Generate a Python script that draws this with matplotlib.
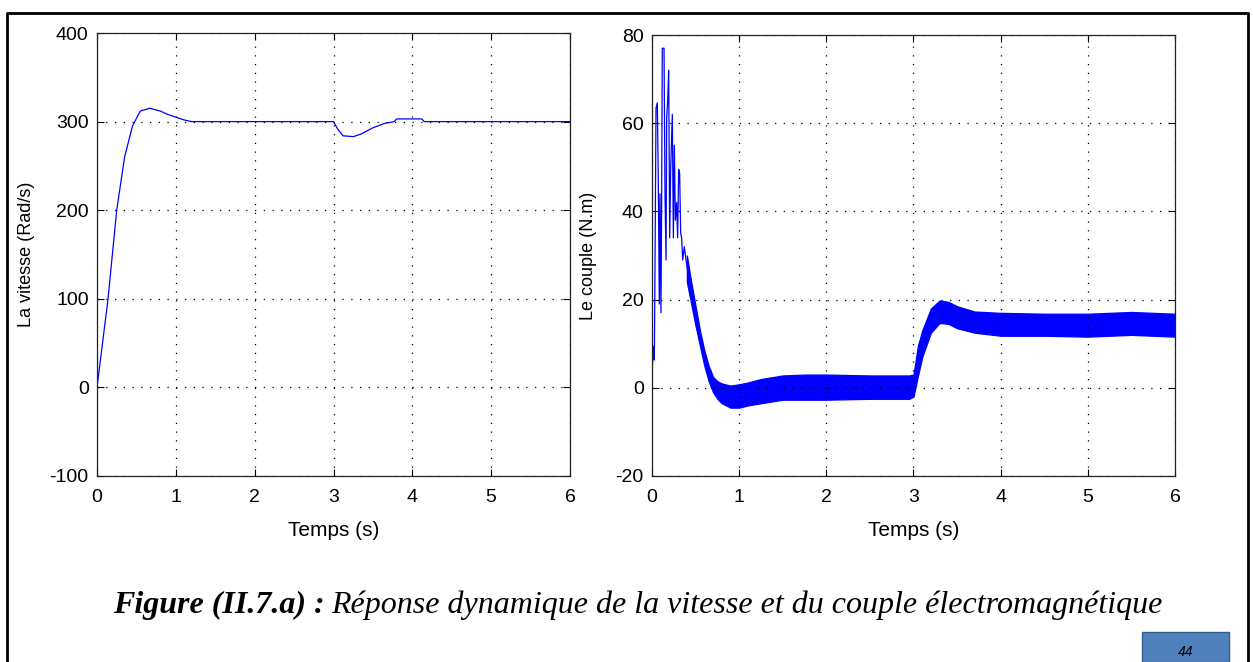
import numpy as np
import matplotlib
matplotlib.use("Agg")
from matplotlib import pyplot as plt
from matplotlib.patches import Rectangle
from matplotlib.lines import Line2D

t_speed = [0, 0.07, 0.14, 0.25, 0.35, 0.45, 0.55, 0.67, 0.8, 0.9, 1.0, 1.1, 1.2,
           3.0, 3.05, 3.12, 3.25, 3.35, 3.5, 3.65, 3.77, 3.8, 4.12, 4.15, 6.0]
speed = [0, 50, 100, 200, 260, 295, 312, 315, 312, 308, 305, 302, 300,
         300, 292, 284, 283, 286, 293, 298, 300, 303, 303, 300, 300]

# couple (N.m) : regime transitoire du debut (pics)
t_early = [0, 0.005, 0.015, 0.027, 0.038, 0.046, 0.061, 0.073, 0.084, 0.092, 0.103,
           0.111, 0.118, 0.138, 0.149, 0.161, 0.168, 0.18, 0.191, 0.203, 0.214,
           0.233, 0.245, 0.256, 0.268, 0.283, 0.294, 0.306, 0.317, 0.329, 0.34,
           0.352, 0.371, 0.39, 0.405]
torque_early = [0, 5, 9.4, 6.3, 38, 63.5, 64.6, 45.6, 19, 44, 17,
                44, 77, 77, 44, 29, 61, 65, 72, 34, 49.5,
                62, 34, 55, 38, 42, 34, 49.5, 48.7, 35, 34,
                29, 32, 29, 27]

# couple (N.m) : enveloppe de l'ondulation ensuite
t_band = [0.40, 0.45, 0.50, 0.55, 0.60, 0.65, 0.70, 0.75, 0.80, 0.90, 1.00, 1.10,
          1.25, 1.50, 1.75, 2.00, 2.50, 2.95, 3.00, 3.05, 3.10, 3.20, 3.30, 3.40,
          3.50, 3.70, 4.00, 4.50, 5.00, 5.50, 6.00]
band_upper = [30, 24, 18.5, 13, 8.5, 5, 2.5, 1.5, 1.0, 0.5, 0.8, 1.2,
              2.0, 2.8, 3.0, 3.0, 2.8, 2.8, 3.0, 9.5, 13, 18, 19.8, 19.5,
              18.5, 17.3, 17, 16.8, 16.8, 17.2, 16.8]
band_lower = [24, 19, 14, 9.5, 5, 1.5, -1, -2.5, -3.5, -4.5, -4.5, -4.0,
              -3.5, -2.7, -2.7, -2.7, -2.5, -2.5, -2.0, 2.6, 7, 12.5, 14.7, 14.5,
              13.5, 12.5, 11.8, 11.8, 11.6, 12, 11.6]

x_ticks = [0, 1, 2, 3, 4, 5, 6]
speed_ticks = [-100, 0, 100, 200, 300, 400]
torque_ticks = [-20, 0, 20, 40, 60, 80]

plt.rcParams["axes.unicode_minus"] = False
plt.rcParams["font.family"] = ["Liberation Sans", "DejaVu Sans"]

W, H = 1253, 662
fig = plt.figure(figsize=(W / 100, H / 100), dpi=100)
fig.patch.set_facecolor("white")


def matlab_axes(rect, yticks, ylabel, label_x):
    ax = fig.add_axes(rect)
    ax.set_xlim(0, 6)
    ax.set_ylim(yticks[0], yticks[-1])
    ax.set_xticks(x_ticks)
    ax.set_yticks(yticks)
    ax.tick_params(direction="in", length=5, width=0.8, top=True, right=True,
                   labelsize=14, pad=6, colors="black")
    ax.tick_params(axis="x", pad=9)
    ax.grid(True, color="black", linestyle=(0, (1, 6)), linewidth=0.9)
    for s in ax.spines.values():
        s.set_linewidth(0.9)
        s.set_color("#222222")
    ax.set_xlabel("Temps (s)", fontsize=15, labelpad=11)
    ax.set_ylabel(ylabel, fontsize=13)
    ax.yaxis.set_label_coords(label_x, 0.5)
    return ax


ax1 = matlab_axes([97 / W, 1 - 476 / H, 473 / W, 443 / H], speed_ticks,
                  "La vitesse (Rad/s)", -0.131)
ax1.plot(t_speed, speed, color="#0000ff", linewidth=0.9)

ax2 = matlab_axes([652 / W, 1 - 476 / H, 523 / W, 441 / H], torque_ticks,
                  "Le couple (N.m)", -0.105)
ax2.plot(t_early, torque_early, color="#0000ff", linewidth=0.9)
ax2.fill_between(t_band, band_lower, band_upper, color="#0000ff", linewidth=0.9,
                 edgecolor="#0000ff")

# cadre de la page
fig.add_artist(Line2D([7 / W, 7 / W, 1248 / W, 1248 / W], [0, 1 - 13 / H, 1 - 13 / H, 0],
                      transform=fig.transFigure, color="black", linewidth=2))

# legende de la figure
renderer = fig.canvas.get_renderer()
t1 = fig.text(113 / W, 1 - 613 / H, "Figure (II.7.a) :", family="Liberation Serif",
              fontsize=23, style="italic", weight="bold", va="baseline")
bb = t1.get_window_extent(renderer)
fig.text((bb.x1 + 7) / W, 1 - 613 / H,
         "Réponse dynamique de la vitesse et du couple électromagnétique",
         family="Liberation Serif", fontsize=23, style="italic", va="baseline")

# numero de page
fig.add_artist(Rectangle((1142 / W, 0), 87 / W, 30 / H, transform=fig.transFigure,
                         facecolor="#4f81bd", edgecolor="#385d8a", linewidth=1))
fig.text(1186 / W, 1 - 645 / H, "44", family="Liberation Sans", fontsize=10,
         style="italic", va="top", ha="center")

plt.savefig("out.png", dpi=100)
